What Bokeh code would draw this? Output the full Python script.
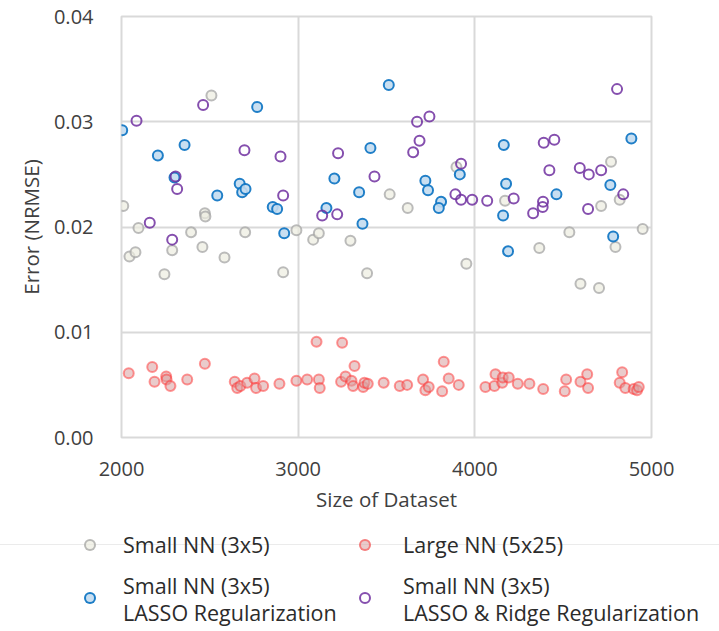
from bokeh.plotting import figure
from bokeh.models import FixedTicker, NumeralTickFormatter, Range1d, Div
from bokeh.layouts import column
from bokeh.embed import file_html
from bokeh.resources import INLINE

# Small NN (3x5)
gray_x = [2509, 2010, 2096, 2045, 2079, 2243, 2287, 2394, 2458, 2472, 2475, 2583, 2700, 2915, 2990,
          3085, 3117, 3296, 3390, 3518, 3620, 3896, 3952, 4171, 4365, 4535, 4598, 4703, 4715, 4771,
          4796, 4820, 4950]
gray_y = [0.0325, 0.0220, 0.0199, 0.0172, 0.0176, 0.0155, 0.0178, 0.0195, 0.0181, 0.0213, 0.0210,
          0.0171, 0.0195, 0.0157, 0.0197, 0.0188, 0.0194, 0.0187, 0.0156, 0.0231, 0.0218, 0.0257,
          0.0165, 0.0225, 0.0180, 0.0195, 0.0146, 0.0142, 0.0220, 0.0262, 0.0181, 0.0226, 0.0198]

# Large NN (5x25)
red_x = [2041, 2174, 2187, 2253, 2255, 2277, 2372, 2472, 2641, 2655, 2673, 2711, 2753, 2762, 2802,
         2894, 2990, 3051, 3104, 3117, 3122, 3243, 3249, 3268, 3302, 3311, 3319, 3368, 3375, 3394,
         3484, 3575, 3617, 3707, 3720, 3739, 3815, 3824, 3852, 3909, 4060, 4111, 4117, 4155, 4158,
         4192, 4243, 4309, 4387, 4509, 4517, 4598, 4636, 4641, 4820, 4834, 4852, 4899, 4918, 4928]
red_y = [0.0061, 0.0067, 0.0053, 0.0058, 0.0055, 0.0049, 0.0055, 0.0070, 0.0053, 0.0047, 0.0049,
         0.0052, 0.0056, 0.0047, 0.0049, 0.0051, 0.0054, 0.0055, 0.0091, 0.0055, 0.0047, 0.0053,
         0.0090, 0.0058, 0.0054, 0.0049, 0.0068, 0.0048, 0.0052, 0.0051, 0.0052, 0.0049, 0.0050,
         0.0055, 0.0045, 0.0048, 0.0044, 0.0072, 0.0056, 0.0050, 0.0048, 0.0049, 0.0060, 0.0052,
         0.0057, 0.0057, 0.0051, 0.0051, 0.0046, 0.0044, 0.0055, 0.0053, 0.0060, 0.0047, 0.0052,
         0.0062, 0.0047, 0.0046, 0.0045, 0.0048]

# Small NN (3x5) LASSO Regularization
blue_x = [2004, 2768, 2206, 2357, 2300, 2542, 2669, 2683, 2702, 2856, 2881, 2921, 3409, 3205, 3160,
          3345, 3364, 3513, 3720, 3735, 3809, 3796, 3915, 4164, 4177, 4160, 4188, 4462, 4767, 4783,
          4886]
blue_y = [0.0292, 0.0314, 0.0268, 0.0278, 0.0247, 0.0230, 0.0241, 0.0233, 0.0236, 0.0219, 0.0217,
          0.0194, 0.0275, 0.0246, 0.0218, 0.0233, 0.0203, 0.0335, 0.0244, 0.0235, 0.0224, 0.0218,
          0.0250, 0.0278, 0.0241, 0.0211, 0.0177, 0.0231, 0.0240, 0.0191, 0.0284]

# Small NN (3x5) LASSO & Ridge Regularization
purple_x = [2085, 2462, 2306, 2315, 2160, 2287, 2696, 2900, 2915, 3226, 3432, 3136, 3221, 4805,
            3673, 3743, 3687, 3651, 3922, 3890, 3922, 3985, 4070, 4220, 4330, 4384, 4386, 4390,
            4450, 4422, 4594, 4645, 4715, 4641, 4840]
purple_y = [0.0301, 0.0316, 0.0248, 0.0236, 0.0204, 0.0188, 0.0273, 0.0267, 0.0230, 0.0270,
            0.0248, 0.0211, 0.0212, 0.0331, 0.0300, 0.0305, 0.0282, 0.0271, 0.0260, 0.0231,
            0.0226, 0.0226, 0.0225, 0.0227, 0.0213, 0.0219, 0.0224, 0.0280, 0.0283, 0.0254,
            0.0256, 0.0250, 0.0254, 0.0217, 0.0231]

y_ticks = [0.0, 0.01, 0.02, 0.03, 0.04]
x_ticks = [2000, 3000, 4000, 5000]

series_labels = [
    ["Small NN (3x5)"],
    ["Large NN (5x25)"],
    ["Small NN (3x5)", "LASSO Regularization"],
    ["Small NN (3x5)", "LASSO & Ridge Regularization"],
]

FONT = "Open Sans"
TXT = "#404040"
LEG_TXT = "#2b2b2b"
GRID = "#d9d9d9"

STYLES = [
    dict(line_color="#a6a6a6", line_alpha=0.75, fill_color="#ececdf", fill_alpha=0.7),
    dict(line_color="#ff3030", line_alpha=0.5, fill_color="#d9a0a0", fill_alpha=0.55),
    dict(line_color="#0a72c2", line_alpha=0.9, fill_color="#c3dcf0", fill_alpha=0.9),
    dict(line_color="#7030a0", line_alpha=0.85, fill_color=None),
]

p = figure(width=719, height=520, output_backend="svg", toolbar_location=None,
           x_range=Range1d(2000, 5000), y_range=Range1d(0, 0.04),
           min_border_left=121, min_border_right=68, min_border_top=16, min_border_bottom=83)

p.outline_line_color = GRID
p.outline_line_width = 2
p.background_fill_color = "white"
p.border_fill_color = "white"

for ax in (p.xaxis[0], p.yaxis[0]):
    ax.axis_line_color = None
    ax.major_tick_line_color = None
    ax.minor_tick_line_color = None
    ax.major_label_text_font = FONT
    ax.major_label_text_font_size = "20px"
    ax.major_label_text_color = TXT
    ax.axis_label_text_font = FONT
    ax.axis_label_text_font_size = "20.5px"
    ax.axis_label_text_color = TXT
    ax.axis_label_text_font_style = "normal"

p.xaxis.ticker = FixedTicker(ticks=x_ticks)
p.yaxis.ticker = FixedTicker(ticks=y_ticks)
p.yaxis.formatter = NumeralTickFormatter(format="0.00")
p.xaxis.axis_label = "Size of Dataset"
p.yaxis.axis_label = "Error (NRMSE)"
p.xaxis.major_label_standoff = 18
p.yaxis.major_label_standoff = 22
p.xaxis.axis_label_standoff = 6
p.yaxis.axis_label_standoff = 6

p.xgrid.grid_line_color = GRID
p.ygrid.grid_line_color = GRID
p.xgrid.grid_line_width = 2
p.ygrid.grid_line_width = 2

for xs, ys, st in zip([gray_x, red_x, blue_x, purple_x], [gray_y, red_y, blue_y, purple_y], STYLES):
    p.scatter(xs, ys, size=10, line_width=2, **st)


def css_color(c, a):
    if c is None:
        return "transparent"
    c = c.lstrip("#")
    r, g, b = int(c[0:2], 16), int(c[2:4], 16), int(c[4:6], 16)
    return f"rgba({r},{g},{b},{a})"


# legend panel below the chart
marker_pos = [(90, 25), (365, 25), (90, 78), (365, 78)]
parts = [
    '<div style="position:relative;width:719px;height:111px;margin:0;padding:0;'
    f'font-family:\'{FONT}\';font-size:21.5px;color:{LEG_TXT};background:white;">',
    '<div style="position:absolute;left:0;top:24px;width:719px;height:1px;background:#ebebeb;"></div>',
]
for (mx, my), st, lines in zip(marker_pos, STYLES, series_labels):
    lc = css_color(st["line_color"], st["line_alpha"])
    fc = css_color(st.get("fill_color"), st.get("fill_alpha", 0))
    parts.append(
        f'<div style="position:absolute;box-sizing:content-box;left:{mx - 6}px;top:{my - 6}px;'
        f'width:8px;height:8px;border:2px solid {lc};border-radius:50%;background:{fc};"></div>')
    tx = mx + (33 if mx < 200 else 38)
    ys = [my] if len(lines) == 1 else [my - 12, my + 15]
    for ln, ty in zip(lines, ys):
        parts.append(
            f'<div style="position:absolute;left:{tx}px;top:{ty - 14}px;line-height:28px;'
            f'white-space:nowrap;">{ln.replace("&", "&amp;")}</div>')
parts.append('</div>')

lg = Div(text="".join(parts), width=719, height=111, styles={"margin": "0", "padding": "0"})

open("out.html", "w").write(file_html(column(p, lg, spacing=0), INLINE))
